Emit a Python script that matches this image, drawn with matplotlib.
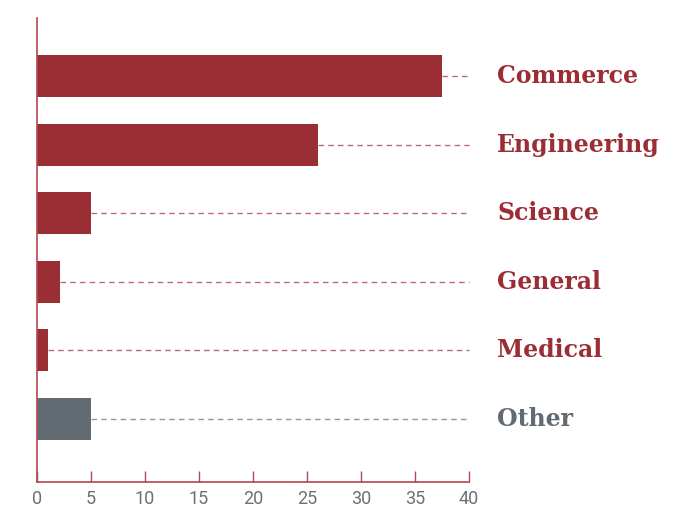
import matplotlib.pyplot as plt

categories = ["Commerce", "Engineering", "Science", "General", "Medical", "Other"]
values = [37.5, 26.0, 5.0, 2.1, 1.0, 5.0]
is_other = [False, False, False, False, False, True]
x_ticks = [0, 5, 10, 15, 20, 25, 30, 35, 40]

RED = "#9b2d35"
GREY = "#636b72"
TICK_GREY = "#6b7178"

fig = plt.figure(figsize=(6.95, 5.08), dpi=100)
ax = fig.add_axes([0.0532, 0.0512, 0.6216, 0.9134])

ypos = list(range(len(categories)))
colors = [GREY if o else RED for o in is_other]
ax.barh(ypos, values, height=0.61, color=colors, zorder=2)

for y, v, c, name in zip(ypos, values, colors, categories):
    ax.plot([v, 40], [y, y], linestyle=(0, (4, 3)), color=c, alpha=0.7,
            linewidth=1.0, zorder=1, clip_on=False)
    ax.text(42.6, y, name, color=c, fontsize=17, fontweight="bold",
            family="DejaVu Serif", va="center", ha="left")

ax.set_xlim(0, 40)
ax.set_ylim(5.92, -0.85)
ax.set_yticks([])
ax.set_xticks(x_ticks)
ax.set_xticklabels([str(t) for t in x_ticks], family="Roboto", color=TICK_GREY, fontsize=13)
ax.tick_params(axis="x", direction="in", length=8, color="#b5454e", width=1.0, pad=6)
for side in ("top", "right"):
    ax.spines[side].set_visible(False)
for side in ("left", "bottom"):
    ax.spines[side].set_color("#b5454e")
    ax.spines[side].set_linewidth(1.2)

fig.savefig("out.png", dpi=100)
